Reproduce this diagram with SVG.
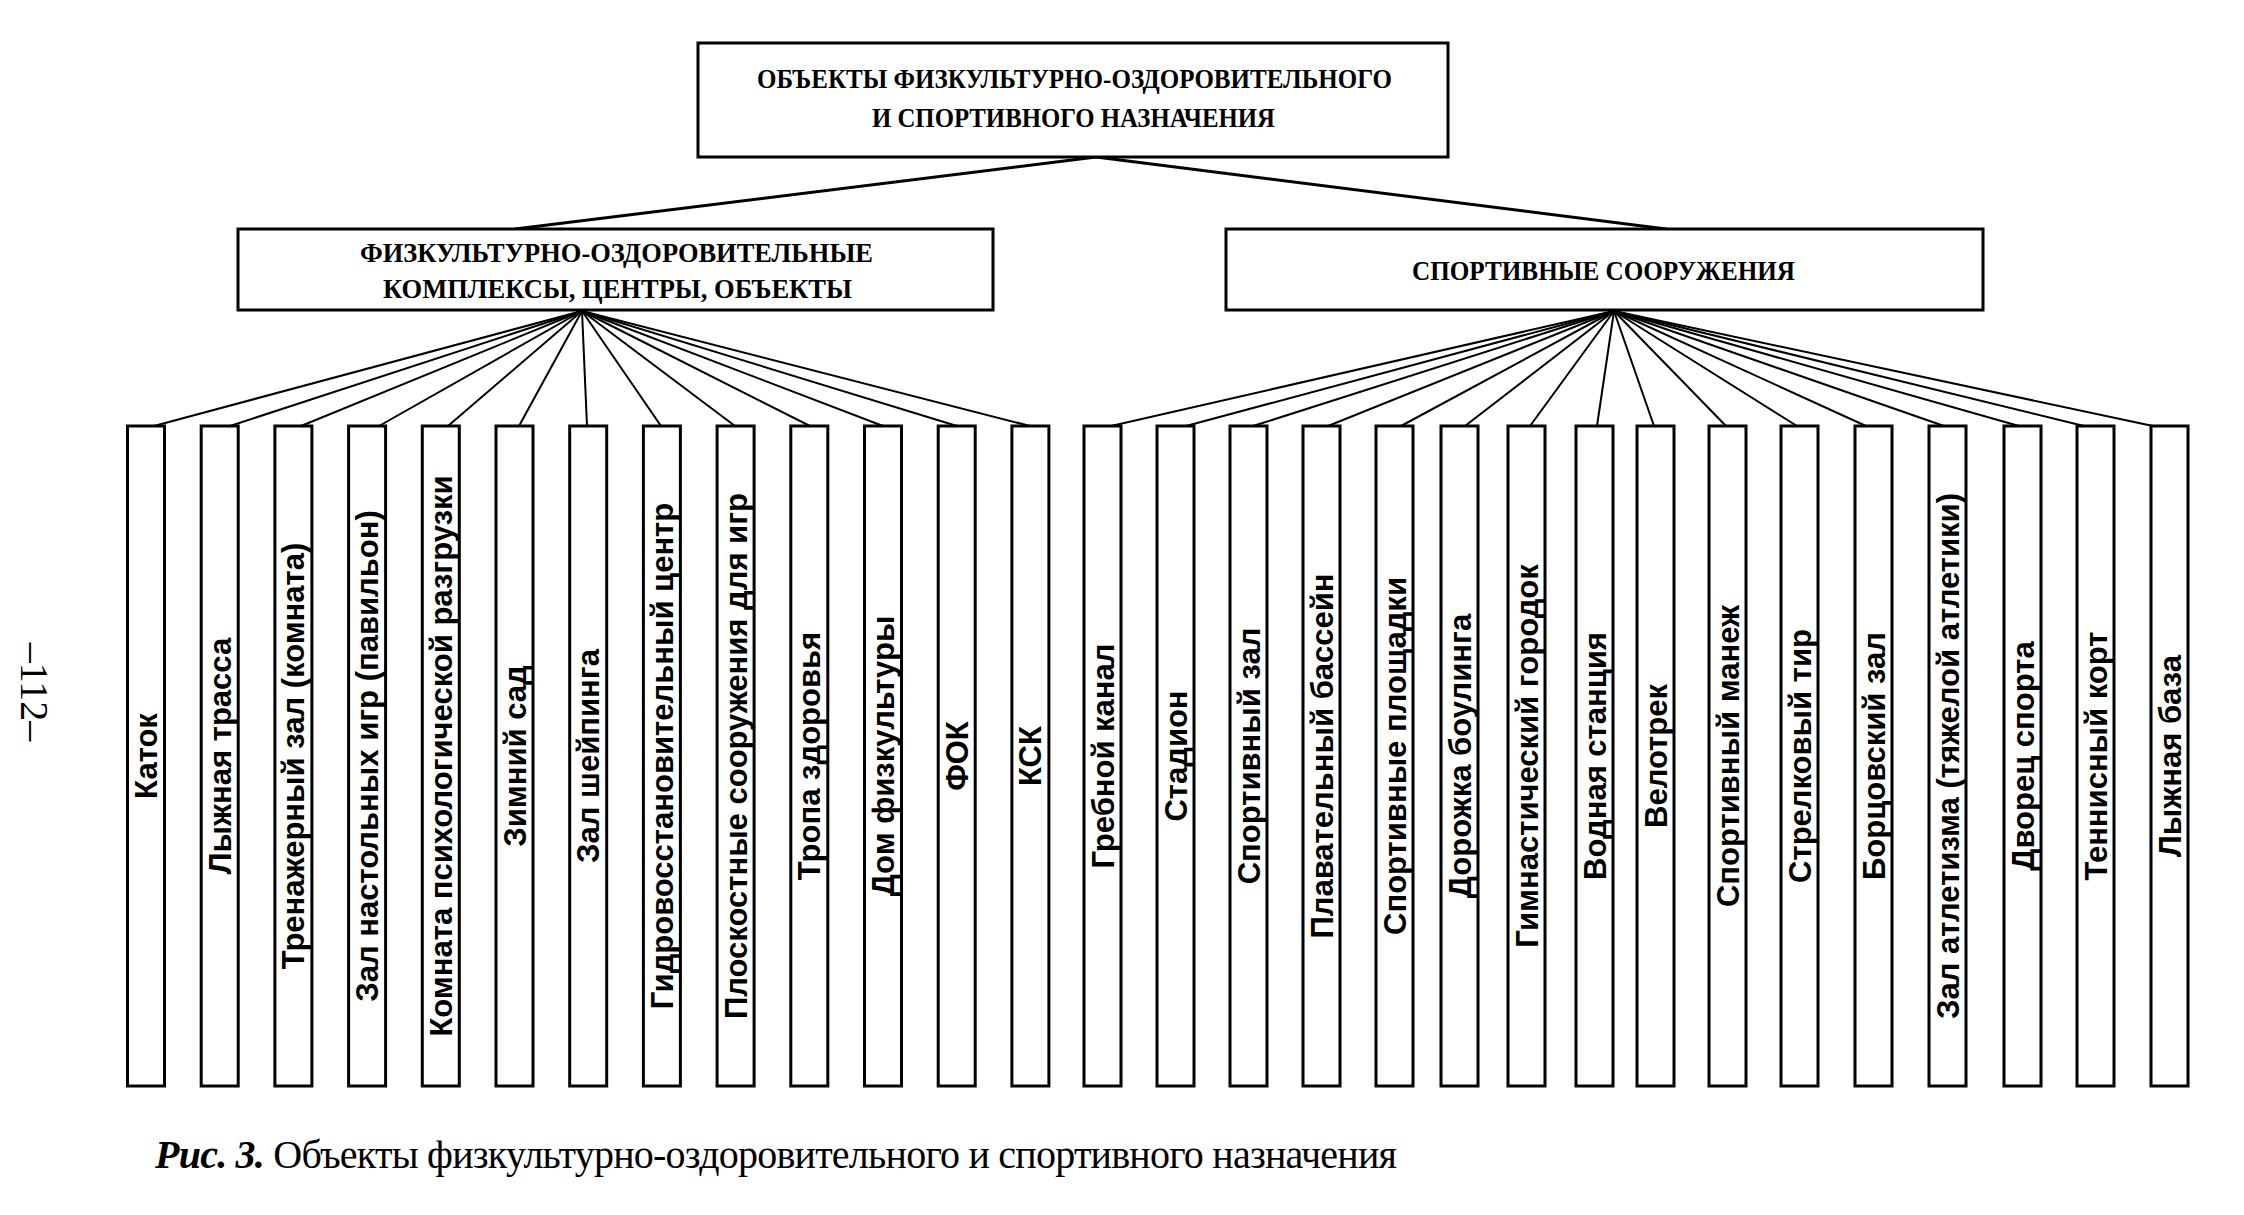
<svg xmlns="http://www.w3.org/2000/svg" width="2244" height="1215" viewBox="0 0 2244 1215">
<style>
.box{fill:#fff;stroke:#000;stroke-width:3}
.head{font-family:"Liberation Serif","Times New Roman",serif;font-weight:bold;font-size:27px;fill:#000}
.lbl{font-family:"Liberation Sans",Arial,sans-serif;font-weight:bold;font-size:31px;fill:#000;text-anchor:middle}
.main{stroke:#000;stroke-width:3;fill:none}
.fan{stroke:#000;stroke-width:2;fill:none}
.cap{font-family:"Liberation Serif","Times New Roman",serif;font-size:40px;fill:#000}
</style>
<rect width="2244" height="1215" fill="#fff"/>
<g id="connectors">
<line class="main" x1="1096" y1="157" x2="515" y2="229"/>
<line class="main" x1="1096" y1="157" x2="1666" y2="229"/>
<g id="fan-left">
<line class="fan" x1="582" y1="311" x2="154" y2="426"/>
<line class="fan" x1="582" y1="311" x2="230" y2="426"/>
<line class="fan" x1="582" y1="311" x2="301" y2="426"/>
<line class="fan" x1="582" y1="311" x2="379" y2="426"/>
<line class="fan" x1="582" y1="311" x2="448" y2="426"/>
<line class="fan" x1="582" y1="311" x2="519" y2="426"/>
<line class="fan" x1="582" y1="311" x2="587" y2="426"/>
<line class="fan" x1="582" y1="311" x2="661" y2="426"/>
<line class="fan" x1="582" y1="311" x2="735" y2="426"/>
<line class="fan" x1="582" y1="311" x2="810" y2="426"/>
<line class="fan" x1="582" y1="311" x2="883" y2="426"/>
<line class="fan" x1="582" y1="311" x2="957" y2="426"/>
<line class="fan" x1="582" y1="311" x2="1030" y2="426"/>
</g>
<g id="fan-right">
<line class="fan" x1="1614" y1="311" x2="1111" y2="426"/>
<line class="fan" x1="1614" y1="311" x2="1186" y2="426"/>
<line class="fan" x1="1614" y1="311" x2="1253" y2="426"/>
<line class="fan" x1="1614" y1="311" x2="1328" y2="426"/>
<line class="fan" x1="1614" y1="311" x2="1401" y2="426"/>
<line class="fan" x1="1614" y1="311" x2="1465" y2="426"/>
<line class="fan" x1="1614" y1="311" x2="1530" y2="426"/>
<line class="fan" x1="1614" y1="311" x2="1597" y2="426"/>
<line class="fan" x1="1614" y1="311" x2="1654" y2="426"/>
<line class="fan" x1="1614" y1="311" x2="1726" y2="426"/>
<line class="fan" x1="1614" y1="311" x2="1797" y2="426"/>
<line class="fan" x1="1614" y1="311" x2="1866" y2="426"/>
<line class="fan" x1="1614" y1="311" x2="1944" y2="426"/>
<line class="fan" x1="1614" y1="311" x2="2019" y2="426"/>
<line class="fan" x1="1614" y1="311" x2="2084" y2="426"/>
<line class="fan" x1="1614" y1="311" x2="2153" y2="426"/>
</g>
</g>
<g id="root">
<rect class="box" x="698" y="43" width="750" height="114"/>
<text class="head" x="757" y="88" textLength="635" lengthAdjust="spacingAndGlyphs">ОБЪЕКТЫ ФИЗКУЛЬТУРНО-ОЗДОРОВИТЕЛЬНОГО</text>
<text class="head" x="872" y="127" textLength="403" lengthAdjust="spacingAndGlyphs">И СПОРТИВНОГО НАЗНАЧЕНИЯ</text>
</g>
<g id="health">
<rect class="box" x="238" y="229" width="755" height="81"/>
<text class="head" x="360" y="262" textLength="513" lengthAdjust="spacingAndGlyphs">ФИЗКУЛЬТУРНО-ОЗДОРОВИТЕЛЬНЫЕ</text>
<text class="head" x="383" y="298" textLength="469" lengthAdjust="spacingAndGlyphs">КОМПЛЕКСЫ, ЦЕНТРЫ, ОБЪЕКТЫ</text>
</g>
<g id="sport">
<rect class="box" x="1226" y="229" width="757" height="81"/>
<text class="head" x="1412" y="280" textLength="383" lengthAdjust="spacingAndGlyphs">СПОРТИВНЫЕ СООРУЖЕНИЯ</text>
</g>
<g id="l1"><rect class="box" x="127.5" y="426" width="37" height="660"/><text class="lbl" transform="translate(157,756) rotate(-90)">Каток</text></g>
<g id="l2"><rect class="box" x="201.2" y="426" width="37" height="660"/><text class="lbl" transform="translate(230.7,756) rotate(-90)">Лыжная трасса</text></g>
<g id="l3"><rect class="box" x="274.9" y="426" width="37" height="660"/><text class="lbl" transform="translate(304.4,756) rotate(-90)">Тренажерный зал (комната)</text></g>
<g id="l4"><rect class="box" x="348.6" y="426" width="37" height="660"/><text class="lbl" transform="translate(378.1,756) rotate(-90)">Зал настольных игр (павильон)</text></g>
<g id="l5"><rect class="box" x="422.3" y="426" width="37" height="660"/><text class="lbl" transform="translate(451.8,756) rotate(-90)">Комната психологической разгрузки</text></g>
<g id="l6"><rect class="box" x="496" y="426" width="37" height="660"/><text class="lbl" transform="translate(525.5,756) rotate(-90)">Зимний сад</text></g>
<g id="l7"><rect class="box" x="569.7" y="426" width="37" height="660"/><text class="lbl" transform="translate(599.2,756) rotate(-90)">Зал шейпинга</text></g>
<g id="l8"><rect class="box" x="643.4" y="426" width="37" height="660"/><text class="lbl" transform="translate(672.9,756) rotate(-90)">Гидровосстановительный центр</text></g>
<g id="l9"><rect class="box" x="717.1" y="426" width="37" height="660"/><text class="lbl" transform="translate(746.6,756) rotate(-90)">Плоскостные сооружения для игр</text></g>
<g id="l10"><rect class="box" x="790.8" y="426" width="37" height="660"/><text class="lbl" transform="translate(820.3,756) rotate(-90)">Тропа здоровья</text></g>
<g id="l11"><rect class="box" x="864.5" y="426" width="37" height="660"/><text class="lbl" transform="translate(894,756) rotate(-90)">Дом физкультуры</text></g>
<g id="l12"><rect class="box" x="938.2" y="426" width="37" height="660"/><text class="lbl" transform="translate(967.7,756) rotate(-90)">ФОК</text></g>
<g id="l13"><rect class="box" x="1011.9" y="426" width="37" height="660"/><text class="lbl" transform="translate(1041.4,756) rotate(-90)">КСК</text></g>
<g id="r1"><rect class="box" x="1084" y="426" width="37" height="660"/><text class="lbl" transform="translate(1113.5,756) rotate(-90)">Гребной канал</text></g>
<g id="r2"><rect class="box" x="1157" y="426" width="37" height="660"/><text class="lbl" transform="translate(1186.5,756) rotate(-90)">Стадион</text></g>
<g id="r3"><rect class="box" x="1230" y="426" width="37" height="660"/><text class="lbl" transform="translate(1259.5,756) rotate(-90)">Спортивный зал</text></g>
<g id="r4"><rect class="box" x="1303" y="426" width="37" height="660"/><text class="lbl" transform="translate(1332.5,756) rotate(-90)">Плавательный бассейн</text></g>
<g id="r5"><rect class="box" x="1376" y="426" width="37" height="660"/><text class="lbl" transform="translate(1405.5,756) rotate(-90)">Спортивные площадки</text></g>
<g id="r6"><rect class="box" x="1441" y="426" width="37" height="660"/><text class="lbl" transform="translate(1470.5,756) rotate(-90)">Дорожка боулинга</text></g>
<g id="r7"><rect class="box" x="1508" y="426" width="37" height="660"/><text class="lbl" transform="translate(1537.5,756) rotate(-90)">Гимнастический городок</text></g>
<g id="r8"><rect class="box" x="1576" y="426" width="37" height="660"/><text class="lbl" transform="translate(1605.5,756) rotate(-90)">Водная станция</text></g>
<g id="r9"><rect class="box" x="1637" y="426" width="37" height="660"/><text class="lbl" transform="translate(1666.5,756) rotate(-90)">Велотрек</text></g>
<g id="r10"><rect class="box" x="1709" y="426" width="37" height="660"/><text class="lbl" transform="translate(1738.5,756) rotate(-90)">Спортивный манеж</text></g>
<g id="r11"><rect class="box" x="1781" y="426" width="37" height="660"/><text class="lbl" transform="translate(1810.5,756) rotate(-90)">Стрелковый тир</text></g>
<g id="r12"><rect class="box" x="1855" y="426" width="37" height="660"/><text class="lbl" transform="translate(1884.5,756) rotate(-90)">Борцовский зал</text></g>
<g id="r13"><rect class="box" x="1929" y="426" width="37" height="660"/><text class="lbl" transform="translate(1958.5,756) rotate(-90)">Зал атлетизма (тяжелой атлетики)</text></g>
<g id="r14"><rect class="box" x="2004" y="426" width="37" height="660"/><text class="lbl" transform="translate(2033.5,756) rotate(-90)">Дворец спорта</text></g>
<g id="r15"><rect class="box" x="2077" y="426" width="37" height="660"/><text class="lbl" transform="translate(2106.5,756) rotate(-90)">Теннисный корт</text></g>
<g id="r16"><rect class="box" x="2151" y="426" width="37" height="660"/><text class="lbl" transform="translate(2180.5,756) rotate(-90)">Лыжная база</text></g>
<text class="cap" font-size="47" text-anchor="middle" transform="translate(21,692) rotate(90)">–112–</text>
<text class="cap" x="155" y="1168" textLength="1242" lengthAdjust="spacing"><tspan font-weight="bold" font-style="italic">Рис. 3.</tspan> Объекты физкультурно-оздоровительного и спортивного назначения</text>
</svg>
